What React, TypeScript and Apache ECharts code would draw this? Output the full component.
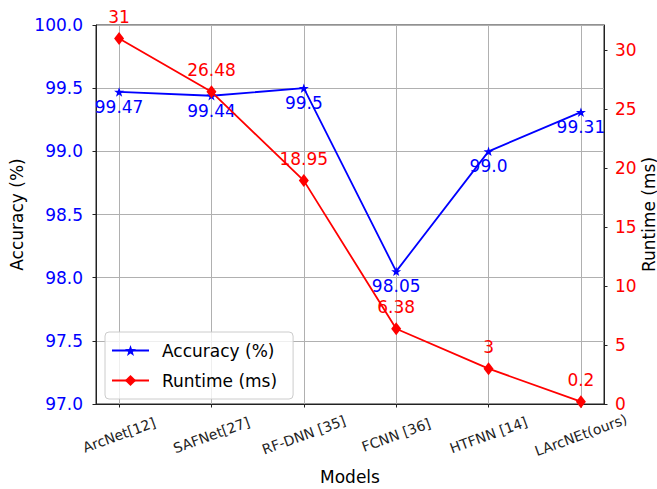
import React, { useEffect, useRef } from "react";
import * as echarts from "echarts";

const models = ["ArcNet[12]", "SAFNet[27]", "RF-DNN [35]", "FCNN [36]", "HTFNN [14]", "LArcNEt(ours)"];
const accuracy = [99.47, 99.44, 99.5, 98.05, 99.0, 99.31];
const accuracyLabels = ["99.47", "99.44", "99.5", "98.05", "99.0", "99.31"];
const runtime = [31, 26.48, 18.95, 6.38, 3, 0.2];
const runtimeLabels = ["31", "26.48", "18.95", "6.38", "3", "0.2"];
const accTicks = [97, 97.5, 98, 98.5, 99, 99.5, 100];
const runTicks = [0, 5, 10, 15, 20, 25, 30];

const FONT = "DejaVu Sans";
const STAR =
  "path://M0,-10 L2.35,-3.24 L9.51,-3.09 L3.8,1.24 L5.88,8.09 L0,4 L-5.88,8.09 L-3.8,1.24 L-9.51,-3.09 L-2.35,-3.24 Z";

export default function App() {
  const ref = useRef<HTMLDivElement>(null);
  useEffect(() => {
    if (!ref.current) return;
    const chart = echarts.init(ref.current, null, { renderer: "svg" });
    const idx = models.map((_, i) => i);
    chart.setOption({
      animation: false,
      textStyle: { fontFamily: FONT },
      grid: {
        left: 96,
        right: 53,
        top: 25,
        bottom: 85,
        containLabel: false,
        outerBoundsMode: "none",
        show: true,
        borderColor: "#222",
        borderWidth: 1,
        backgroundColor: "transparent",
      },
      legend: {
        orient: "vertical",
        left: 105,
        top: 332,
        itemWidth: 37,
        itemHeight: 14,
        itemGap: 13,
        padding: [10, 16, 10, 6],
        backgroundColor: "rgba(255,255,255,0.8)",
        borderColor: "#cccccc",
        borderWidth: 1,
        borderRadius: 4,
        textStyle: { fontSize: 17, color: "#000", fontFamily: FONT, padding: [0, 0, 0, 8] },
        data: ["Accuracy (%)", "Runtime (ms)"],
      },
      xAxis: {
        type: "value",
        min: -0.25,
        max: 5.25,
        name: "Models",
        nameLocation: "middle",
        nameGap: 64,
        nameMoveOverlap: false,
        nameTextStyle: { fontSize: 17, color: "#000", fontFamily: FONT },
        axisLine: { show: true, onZero: false, lineStyle: { color: "#222", width: 1 } },
        axisTick: { show: true, length: 3.5, lineStyle: { color: "#222" }, customValues: idx },
        splitLine: { show: true, lineStyle: { color: "#b0b0b0", width: 1 } },
        axisLabel: {
          customValues: idx,
          rotate: 20,
          align: "center",
          verticalAlign: "middle",
          margin: 31,
          fontSize: 14,
          color: "#222",
          fontFamily: FONT,
          formatter: (v: number) => models[Math.round(v)] ?? "",
        },
      },
      yAxis: [
        {
          type: "value",
          min: 97,
          max: 100,
          position: "left",
          name: "Accuracy (%)",
          nameLocation: "middle",
          nameRotate: 90,
          nameGap: 71,
          nameMoveOverlap: false,
          nameTextStyle: { fontSize: 17, color: "#000", fontFamily: FONT },
          axisLine: { show: true, onZero: false, lineStyle: { color: "#222", width: 1 } },
          axisTick: { show: true, length: 3.5, lineStyle: { color: "#222" }, customValues: accTicks },
          splitLine: { show: true, lineStyle: { color: "#b0b0b0", width: 1 } },
          axisLabel: {
            customValues: accTicks,
            margin: 13,
            fontSize: 17,
            color: "#0000ff",
            fontFamily: FONT,
            formatter: (v: number) => v.toFixed(1),
          },
        },
        {
          type: "value",
          min: 0,
          max: 32.15,
          position: "right",
          name: "Runtime (ms)",
          nameLocation: "middle",
          nameRotate: 90,
          nameGap: 36,
          nameMoveOverlap: false,
          nameTextStyle: { fontSize: 17, color: "#000", fontFamily: FONT },
          axisLine: { show: true, onZero: false, lineStyle: { color: "#222", width: 1 } },
          axisTick: { show: true, length: 3.5, lineStyle: { color: "#222" }, customValues: runTicks },
          splitLine: { show: false },
          axisLabel: {
            customValues: runTicks,
            margin: 11,
            fontSize: 17,
            color: "#ff0000",
            fontFamily: FONT,
            formatter: (v: number) => String(v),
          },
        },
      ],
      series: [
        {
          name: "Accuracy (%)",
          type: "line",
          yAxisIndex: 0,
          data: accuracy.map((v, i) => [i, v]),
          symbol: STAR,
          symbolKeepAspect: true,
          symbolSize: 10,
          showAllSymbol: true,
          itemStyle: { color: "#0000ff" },
          lineStyle: { color: "#0000ff", width: 1.8 },
          label: {
            show: true,
            position: "inside",
            offset: [0, 15],
            fontSize: 17,
            color: "#0000ff",
            fontFamily: FONT,
            formatter: (p: any) => accuracyLabels[p.dataIndex],
          },
          z: 3,
        },
        {
          name: "Runtime (ms)",
          type: "line",
          yAxisIndex: 1,
          data: runtime.map((v, i) => [i, v]),
          symbol: "diamond",
          symbolSize: [10, 13],
          showAllSymbol: true,
          itemStyle: { color: "#ff0000" },
          lineStyle: { color: "#ff0000", width: 1.8 },
          label: {
            show: true,
            position: "inside",
            offset: [0, -22],
            fontSize: 17,
            color: "#ff0000",
            fontFamily: FONT,
            formatter: (p: any) => runtimeLabels[p.dataIndex],
          },
          z: 4,
        },
      ],
    });
    return () => chart.dispose();
  }, []);
  return (
    <div
      ref={ref}
      style={{ position: "fixed", left: 0, top: 0, width: 657, height: 489, background: "#fff" }}
    />
  );
}
